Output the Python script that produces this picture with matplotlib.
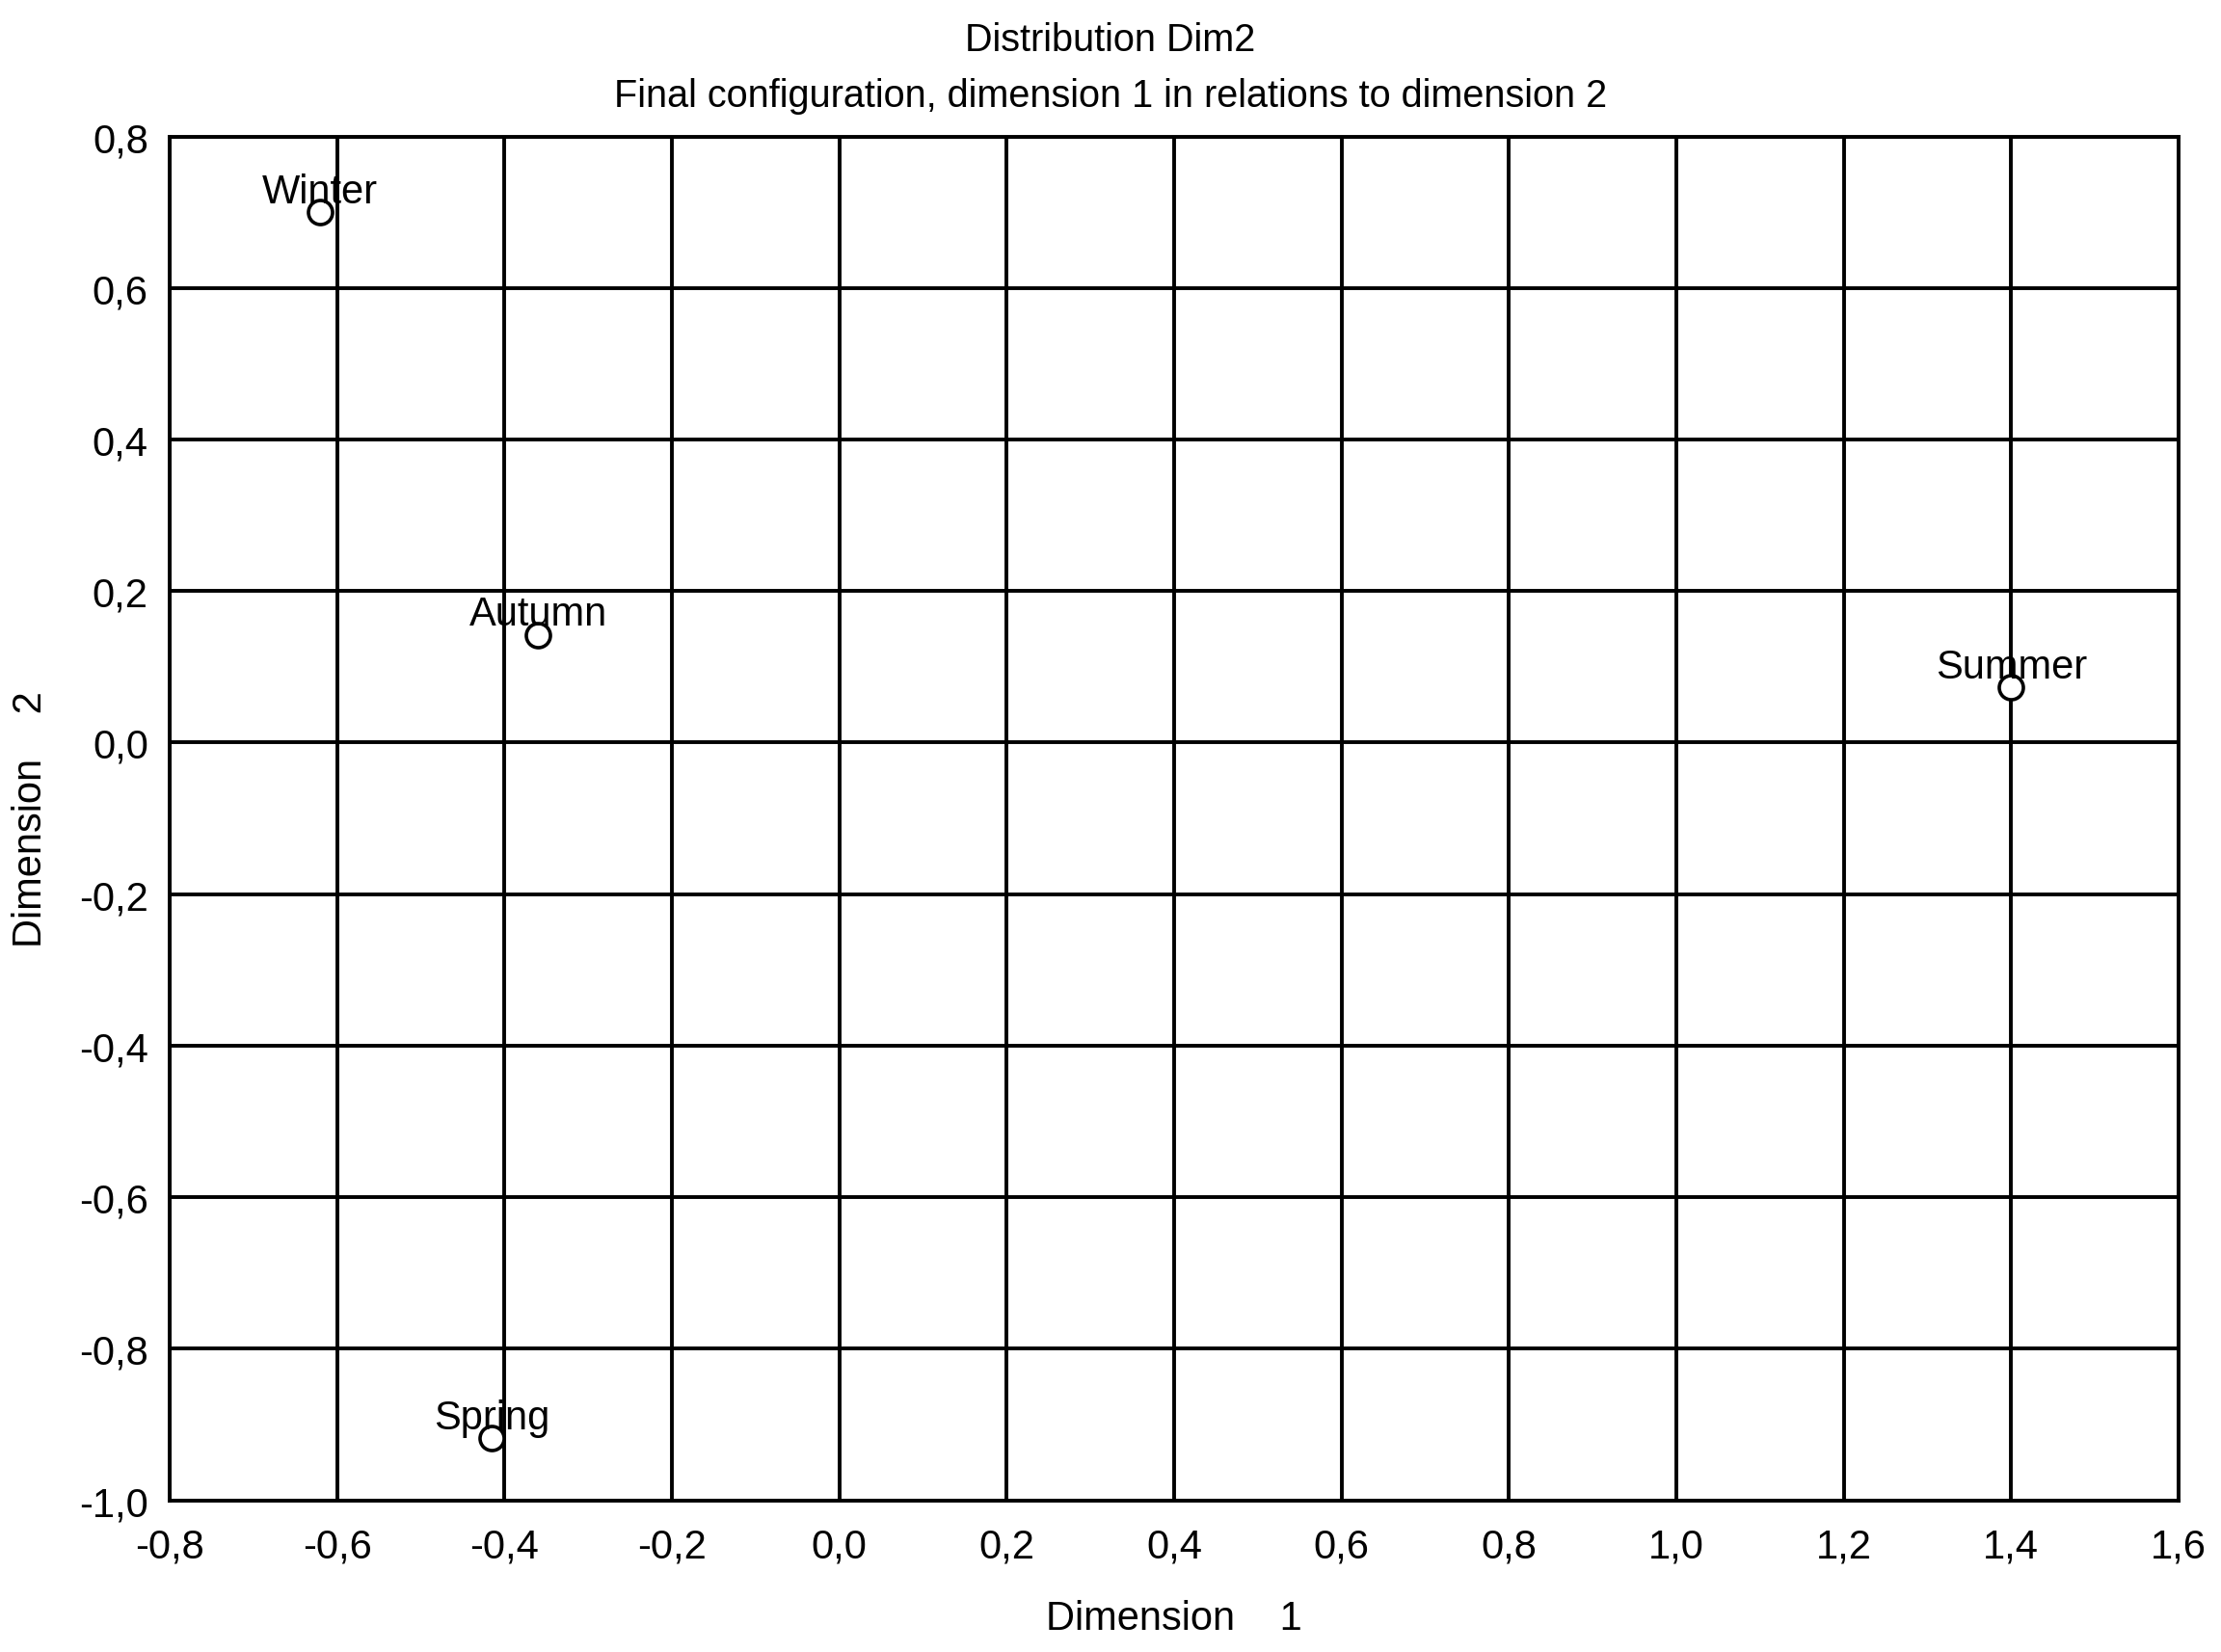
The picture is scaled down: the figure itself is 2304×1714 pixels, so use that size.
import numpy as np
import matplotlib
matplotlib.use('Agg')
import matplotlib.pyplot as plt
from matplotlib.ticker import FuncFormatter

plt.rcParams['font.family'] = ['Liberation Sans', 'DejaVu Sans']

# ── Data ──────────────────────────────────────────────────────────────────────
seasons = ['Winter', 'Autumn', 'Summer', 'Spring']
dim1    = [-0.62, -0.36, 1.40, -0.415]
dim2    = [0.70, 0.142, 0.073, -0.918]

x_ticks = np.round(np.arange(-0.8, 1.61, 0.2), 1)
y_ticks = np.round(np.arange(-1.0, 0.81, 0.2), 1)


def comma_fmt(v, p):
    if abs(v) < 1e-9:
        v = 0.0
    return f'{v:.1f}'.replace('.', ',')


# ── Plot ──────────────────────────────────────────────────────────────────────
fig = plt.figure(figsize=(23.04, 17.15), dpi=100)
ax = fig.add_axes([0.0764, 0.0918, 0.9045, 0.8251])

ax.set_xlim(-0.8, 1.6)
ax.set_ylim(-1.0, 0.8)
ax.set_xticks(x_ticks)
ax.set_yticks(y_ticks)

ax.xaxis.set_major_formatter(FuncFormatter(comma_fmt))
ax.yaxis.set_major_formatter(FuncFormatter(comma_fmt))
ax.tick_params(length=0, labelsize=30)
ax.tick_params(axis='x', pad=20)
ax.tick_params(axis='y', pad=16)

ax.grid(True, color='black', linewidth=2.8)
ax.set_axisbelow(True)
for s in ax.spines.values():
    s.set_linewidth(2.8)

ax.plot(dim1, dim2, 'o', markersize=18, markerfacecolor='white',
        markeredgecolor='black', markeredgewidth=2.6, linestyle='none', zorder=3)

for name, x, y in zip(seasons, dim1, dim2):
    ax.annotate(name, (x, y), xytext=(0, 1), textcoords='offset points',
                ha='center', va='bottom', fontsize=30, zorder=4)

ax.set_xlabel('Dimension    1', fontsize=30, va='center')
ax.xaxis.set_label_coords(0.5, -0.0866)
ax.set_ylabel('Dimension    2', fontsize=30, va='center')
ax.yaxis.set_label_coords(-0.069, 0.5)

fig.text(0.5, 0.9865, 'Distribution Dim2', ha='center', va='top', fontsize=28.5)
fig.text(0.5, 0.953, 'Final configuration, dimension 1 in relations to dimension 2',
         ha='center', va='top', fontsize=28.5)

fig.savefig('out.png', dpi=100)
